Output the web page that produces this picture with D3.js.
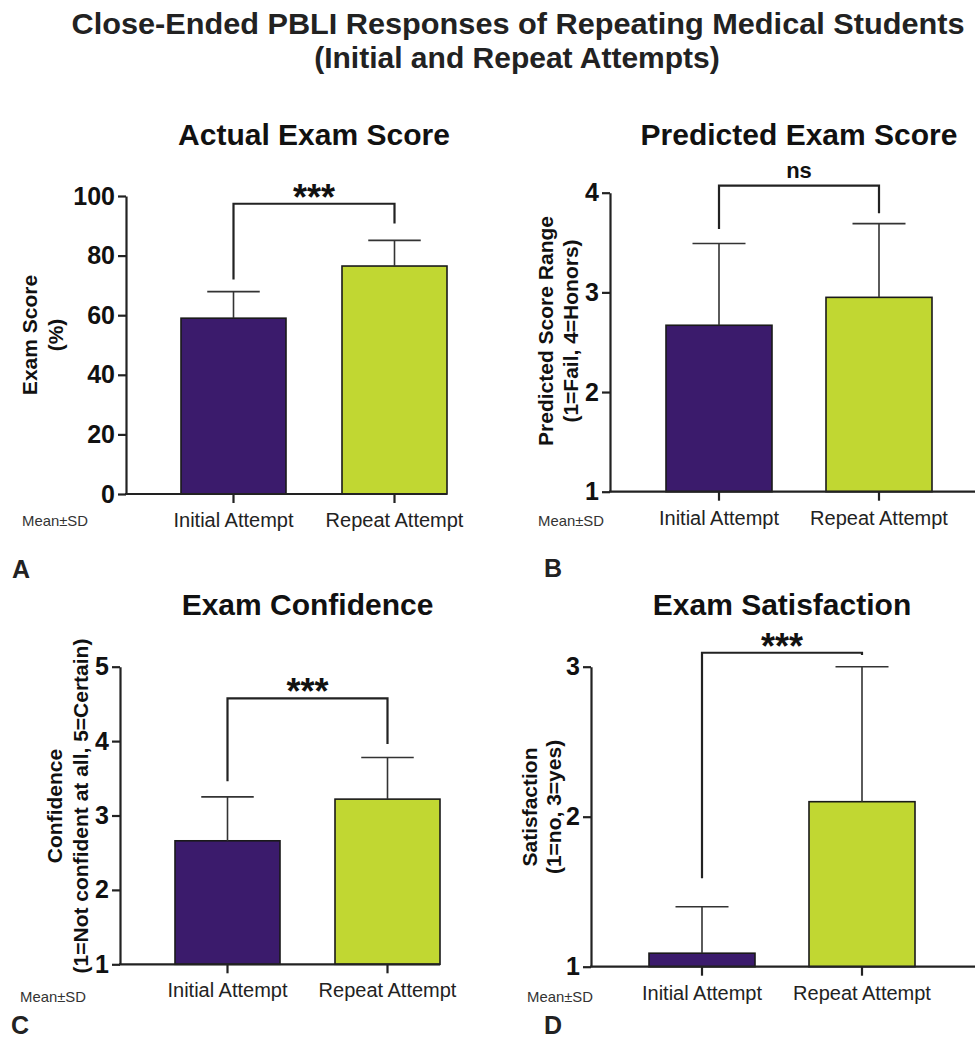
<!DOCTYPE html>
<html>
<head>
<meta charset="utf-8">
<script src="https://cdn.jsdelivr.net/npm/d3@7"></script>
<style>
  html, body { margin: 0; padding: 0; background: #fff; }
  svg { display: block; font-family: "Liberation Sans", Arial, sans-serif; }
</style>
</head>
<body>
<svg id="chart" width="975" height="1041"></svg>
<script>
// ---------------- DATA ----------------
const categories = ["Initial Attempt", "Repeat Attempt"];
const mainTitle = ["Close-Ended PBLI Responses of Repeating Medical Students", "(Initial and Repeat Attempts)"];
const panelTitles = ["Actual Exam Score", "Predicted Exam Score", "Exam Confidence", "Exam Satisfaction"];
const panelLetters = ["A", "B", "C", "D"];
const yLabels = [
  ["Exam Score", "(%)"],
  ["Predicted Score Range", "(1=Fail, 4=Honors)"],
  ["Confidence", "(1=Not confident at all, 5=Certain)"],
  ["Satisfaction", "(1=no, 3=yes)"]
];
const actualMeans = [59.0, 76.5];
const actualSD = [8.9, 8.6];
const predictedMeans = [2.67, 2.95];
const predictedSD = [0.82, 0.74];
const confidenceMeans = [2.66, 3.22];
const confidenceSD = [0.59, 0.56];
const satisfactionMeans = [1.09, 2.10];
const satisfactionSD = [0.31, 0.90];
const actualTicks = [0, 20, 40, 60, 80, 100];
const predictedTicks = [1, 2, 3, 4];
const confidenceTicks = [1, 2, 3, 4, 5];
const satisfactionTicks = [1, 2, 3];
const significance = ["***", "ns", "***", "***"];
const statLabel = "Mean\u00B1SD";
const barColors = ["#3b1b6c", "#c1d732"];

// ---------------- LAYOUT ----------------
const panels = [
  { means: actualMeans, sd: actualSD, ticks: actualTicks, domain: [0, 100],
    axisX: 126, yTop: 196, yBot: 494, bandStart: 181, step: 161, bw: 105, xEnd: 447,
    titleY: 145, lab1X: 37, lab2X: 63, labY: 335, meanX: 22, meanY: 526, letX: 12, letY: 578,
    br: { top: 97.4, left: 72.0, right: 90.8 } },
  { means: predictedMeans, sd: predictedSD, ticks: predictedTicks, domain: [1, 4],
    axisX: 610, yTop: 192.7, yBot: 491.7, bandStart: 666, step: 160, bw: 106, xEnd: 975,
    titleY: 145, lab1X: 553, lab2X: 578, labY: 331, meanX: 538, meanY: 526, letX: 544, letY: 577,
    br: { top: 4.07, left: 3.635, right: 3.795 } },
  { means: confidenceMeans, sd: confidenceSD, ticks: confidenceTicks, domain: [1, 5],
    axisX: 120, yTop: 666.7, yBot: 964.3, bandStart: 175, step: 160, bw: 105, xEnd: 440,
    titleY: 615, lab1X: 62, lab2X: 88, labY: 806, meanX: 20, meanY: 1002, letX: 11, letY: 1034,
    br: { top: 4.575, left: 3.46, right: 3.96 } },
  { means: satisfactionMeans, sd: satisfactionSD, ticks: satisfactionTicks, domain: [1, 3],
    axisX: 591, yTop: 666.7, yBot: 966.7, bandStart: 649, step: 160, bw: 106, xEnd: 975,
    titleY: 615, lab1X: 537, lab2X: 561, labY: 807, meanX: 527, meanY: 1002, letX: 544, letY: 1034,
    br: { top: 3.093, left: 1.59, right: 3.078 } }
];

const svg = d3.select("#chart");

// main title
svg.append("text")
  .attr("x", 518).attr("y", 34)
  .attr("text-anchor", "middle")
  .attr("font-size", 30).attr("font-weight", "bold").attr("fill", "#222")
  .attr("textLength", 893).attr("lengthAdjust", "spacingAndGlyphs")
  .text(mainTitle[0]);
svg.append("text")
  .attr("x", 517).attr("y", 68)
  .attr("text-anchor", "middle")
  .attr("font-size", 30).attr("font-weight", "bold").attr("fill", "#222")
  .text(mainTitle[1]);

panels.forEach((p, i) => {
  const g = svg.append("g");
  const y = d3.scaleLinear().domain(p.domain).range([p.yBot, p.yTop]);
  const x = d3.scaleBand().domain(categories)
    .range([p.bandStart, p.bandStart + p.step + p.bw])
    .paddingInner((p.step - p.bw) / p.step).paddingOuter(0);
  const bw = x.bandwidth();

  // panel title
  g.append("text")
    .attr("x", x(categories[0]) + (x(categories[1]) + bw - x(categories[0])) / 2)
    .attr("y", p.titleY)
    .attr("text-anchor", "middle")
    .attr("font-size", 30).attr("font-weight", "bold").attr("fill", "#111")
    .text(panelTitles[i]);

  // bars
  g.selectAll("rect.bar").data(categories).join("rect")
    .attr("class", "bar")
    .attr("x", c => x(c))
    .attr("y", (c, j) => y(p.means[j]))
    .attr("width", bw)
    .attr("height", (c, j) => p.yBot - y(p.means[j]))
    .attr("fill", (c, j) => barColors[j])
    .attr("stroke", "#1a1a1a").attr("stroke-width", 1.6);

  // error bars (upper only)
  categories.forEach((c, j) => {
    const cx = x(c) + bw / 2;
    const top = y(p.means[j] + p.sd[j]);
    g.append("line")
      .attr("x1", cx).attr("x2", cx)
      .attr("y1", y(p.means[j])).attr("y2", top)
      .attr("stroke", "#333").attr("stroke-width", 1.6);
    g.append("line")
      .attr("x1", cx - bw / 4).attr("x2", cx + bw / 4)
      .attr("y1", top).attr("y2", top)
      .attr("stroke", "#333").attr("stroke-width", 1.6);
  });

  // y axis
  const yAxis = g.append("g")
    .attr("transform", `translate(${p.axisX},0)`)
    .call(d3.axisLeft(y).tickValues(p.ticks).tickSize(8).tickSizeOuter(0).tickPadding(3).tickFormat(d3.format("d")));
  yAxis.select(".domain").attr("stroke", "#222").attr("stroke-width", 2.2);
  yAxis.selectAll(".tick line").attr("stroke", "#222").attr("stroke-width", 2.2);
  yAxis.selectAll(".tick text")
    .attr("font-size", 25).attr("font-weight", "bold").attr("fill", "#111")
    .attr("font-family", "'Liberation Sans', Arial, sans-serif");

  // x axis
  const xAxis = g.append("g")
    .attr("transform", `translate(0,${p.yBot})`)
    .call(d3.axisBottom(x).tickSize(9).tickSizeOuter(0).tickPadding(10));
  xAxis.select(".domain").remove();
  xAxis.selectAll(".tick line").attr("stroke", "#222").attr("stroke-width", 2.2);
  xAxis.selectAll(".tick text")
    .attr("font-size", 20).attr("fill", "#222")
    .attr("font-family", "'Liberation Sans', Arial, sans-serif");
  g.append("line")
    .attr("x1", p.axisX - 1).attr("x2", p.xEnd)
    .attr("y1", p.yBot).attr("y2", p.yBot)
    .attr("stroke", "#222").attr("stroke-width", 2.2);

  // y label (two lines, rotated)
  g.append("text")
    .attr("transform", `translate(${p.lab1X},${p.labY}) rotate(-90)`)
    .attr("text-anchor", "middle")
    .attr("font-size", 21).attr("font-weight", "bold").attr("fill", "#111")
    .text(yLabels[i][0]);
  g.append("text")
    .attr("transform", `translate(${p.lab2X},${p.labY}) rotate(-90)`)
    .attr("text-anchor", "middle")
    .attr("font-size", 21).attr("font-weight", "bold").attr("fill", "#111")
    .text(yLabels[i][1]);

  // significance bracket
  const lx = x(categories[0]) + bw / 2;
  const rx = x(categories[1]) + bw / 2;
  const by = y(p.br.top);
  g.append("path")
    .attr("d", `M${lx},${y(p.br.left)} L${lx},${by} L${rx},${by} L${rx},${y(p.br.right)}`)
    .attr("fill", "none").attr("stroke", "#222").attr("stroke-width", 2.2);
  const isNs = significance[i] === "ns";
  g.append("text")
    .attr("x", (lx + rx) / 2)
    .attr("y", isNs ? by - 8 : by + 6)
    .attr("text-anchor", "middle")
    .attr("font-size", isNs ? 22 : 36).attr("font-weight", "bold").attr("fill", "#111")
    .text(significance[i]);

  // Mean±SD note
  g.append("text")
    .attr("x", p.meanX).attr("y", p.meanY)
    .attr("font-size", 15).attr("fill", "#333")
    .attr("textLength", 66).attr("lengthAdjust", "spacingAndGlyphs")
    .text(statLabel);

  // panel letter
  g.append("text")
    .attr("x", p.letX).attr("y", p.letY)
    .attr("font-size", 25).attr("font-weight", "bold").attr("fill", "#222")
    .text(panelLetters[i]);
});
</script>
</body>
</html>
